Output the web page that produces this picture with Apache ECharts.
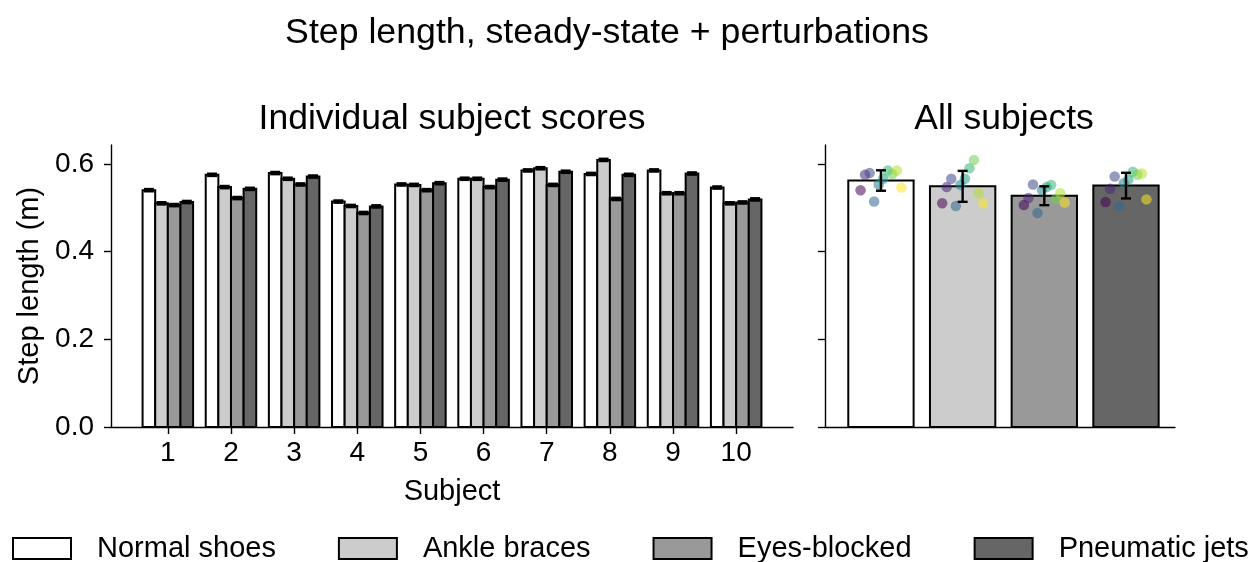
<!DOCTYPE html>
<html>
<head>
<meta charset="utf-8">
<title>Step length, steady-state + perturbations</title>
<script src="https://cdn.jsdelivr.net/npm/echarts@6/dist/echarts.min.js"></script>
<style>
  html, body { margin: 0; padding: 0; background: #fff; }
  #chart { width: 1253px; height: 562px; }
</style>
</head>
<body>
<div id="chart"></div>
<script>
// Subjects and walking conditions
const subjects = ['1', '2', '3', '4', '5', '6', '7', '8', '9', '10'];
const conditions = ['Normal shoes', 'Ankle braces', 'Eyes-blocked', 'Pneumatic jets'];

// Mean step length per subject (m), one array per condition
const normalShoes   = [0.540, 0.575, 0.579, 0.514, 0.553, 0.566, 0.585, 0.577, 0.585, 0.546];
const ankleBraces   = [0.510, 0.547, 0.566, 0.504, 0.552, 0.566, 0.590, 0.609, 0.533, 0.510];
const eyesBlocked   = [0.506, 0.522, 0.553, 0.488, 0.540, 0.547, 0.552, 0.520, 0.533, 0.512];
const pneumaticJets = [0.513, 0.543, 0.571, 0.503, 0.556, 0.564, 0.582, 0.575, 0.578, 0.519];

// Per-subject error (m)
const normalShoesErr   = [0.003, 0.003, 0.003, 0.003, 0.003, 0.003, 0.003, 0.003, 0.003, 0.003];
const ankleBracesErr   = [0.003, 0.003, 0.003, 0.003, 0.003, 0.003, 0.003, 0.003, 0.003, 0.003];
const eyesBlockedErr   = [0.003, 0.003, 0.003, 0.003, 0.003, 0.003, 0.003, 0.003, 0.003, 0.003];
const pneumaticJetsErr = [0.003, 0.003, 0.003, 0.003, 0.003, 0.003, 0.003, 0.003, 0.003, 0.003];

// Axis ticks
const yTicks = [0, 0.2, 0.4, 0.6];

const values = [normalShoes, ankleBraces, eyesBlocked, pneumaticJets];
const errors = [normalShoesErr, ankleBracesErr, eyesBlockedErr, pneumaticJetsErr];

// Styling
const FONT = '"Liberation Sans", Arial, Helvetica, sans-serif';
const fills = ['#ffffff', '#cccccc', '#999999', '#666666'];
const viridis = ['#440154', '#482878', '#3e4989', '#31688e', '#26828e',
                 '#1f9e89', '#35b779', '#6ece58', '#b5de2b', '#fde725'];
const EDGE = 2;
const AXIS_W = 1.4;

function mean(a) { return a.reduce((s, v) => s + v, 0) / a.length; }
function std(a) {
  const m = mean(a);
  return Math.sqrt(a.reduce((s, v) => s + (v - m) * (v - m), 0) / (a.length - 1));
}

function barRenderer(offset, halfWidth, fill) {
  return function (params, api) {
    const x = api.value(0), v = api.value(1);
    const tl = api.coord([x + offset - halfWidth, v]);
    const br = api.coord([x + offset + halfWidth, 0]);
    return {
      type: 'rect',
      shape: { x: tl[0], y: tl[1], width: br[0] - tl[0], height: br[1] - tl[1] },
      style: { fill: fill, stroke: '#000', lineWidth: EDGE }
    };
  };
}

function errorRenderer(offset, capHalf, width) {
  return function (params, api) {
    const x = api.value(0) + offset, v = api.value(1), e = api.value(2);
    const top = api.coord([x, v + e]);
    const bot = api.coord([x, v - e]);
    const st = { stroke: '#000', lineWidth: width };
    return {
      type: 'group',
      children: [
        { type: 'line', shape: { x1: top[0], y1: top[1], x2: bot[0], y2: bot[1] }, style: st },
        { type: 'line', shape: { x1: top[0] - capHalf, y1: top[1], x2: top[0] + capHalf, y2: top[1] }, style: st },
        { type: 'line', shape: { x1: bot[0] - capHalf, y1: bot[1], x2: bot[0] + capHalf, y2: bot[1] }, style: st }
      ]
    };
  };
}

const series = [];
const groupOffsets = [-0.3, -0.1, 0.1, 0.3];

// Left panel: grouped bars per subject
conditions.forEach((name, ci) => {
  series.push({
    name: name,
    type: 'custom',
    xAxisIndex: 0, yAxisIndex: 0,
    itemStyle: { color: fills[ci], borderColor: '#000', borderWidth: EDGE },
    renderItem: barRenderer(groupOffsets[ci], 0.1, fills[ci]),
    data: values[ci].map((v, si) => [si + 1, v]),
    z: 2
  });
  series.push({
    name: name + ' error',
    type: 'custom',
    xAxisIndex: 0, yAxisIndex: 0,
    renderItem: errorRenderer(groupOffsets[ci], 5, 2),
    data: values[ci].map((v, si) => [si + 1, v, errors[ci][si]]),
    z: 4
  });
});

// Right panel: condition means with subject points
conditions.forEach((name, ci) => {
  series.push({
    name: name,
    type: 'custom',
    xAxisIndex: 1, yAxisIndex: 1,
    itemStyle: { color: fills[ci], borderColor: '#000', borderWidth: EDGE },
    renderItem: barRenderer(0, 0.4, fills[ci]),
    data: [[ci, mean(values[ci])]],
    z: 2
  });
});

const spread = subjects.map((s, si) => -0.25 + 0.5 * si / (subjects.length - 1));
const points = [];
conditions.forEach((name, ci) => {
  values[ci].forEach((v, si) => {
    points.push({ value: [ci + spread[si], v], itemStyle: { color: viridis[si], opacity: 0.55 } });
  });
});
series.push({
  name: 'subjects',
  type: 'scatter',
  xAxisIndex: 1, yAxisIndex: 1,
  symbolSize: 10.5,
  data: points,
  z: 3
});
series.push({
  name: 'spread',
  type: 'custom',
  xAxisIndex: 1, yAxisIndex: 1,
  renderItem: errorRenderer(0, 5, 2.4),
  data: conditions.map((n, ci) => [ci, mean(values[ci]), std(values[ci])]),
  z: 4
});

const axisLine = { show: true, onZero: false, lineStyle: { color: '#000', width: AXIS_W } };
const axisTick = { show: true, inside: false, length: 7, lineStyle: { color: '#000', width: AXIS_W } };

const option = {
  animation: false,
  backgroundColor: '#fff',
  textStyle: { fontFamily: FONT, color: '#000' },
  grid: [
    { left: 111, top: 145, width: 682, height: 282 },
    { left: 825, top: 145, width: 350, height: 282 }
  ],
  xAxis: [
    {
      type: 'value', gridIndex: 0, min: 0.1, max: 10.9,
      axisLine: axisLine,
      axisTick: Object.assign({}, axisTick, { customValues: subjects.map((s, i) => i + 1) }),
      axisLabel: {
        customValues: subjects.map((s, i) => i + 1),
        formatter: v => subjects[Math.round(v) - 1],
        fontSize: 28, color: '#000', fontFamily: FONT, margin: 12
      },
      splitLine: { show: false },
      name: 'Subject', nameLocation: 'middle', nameGap: 50,
      nameTextStyle: { fontSize: 29, color: '#000', fontFamily: FONT }
    },
    {
      type: 'value', gridIndex: 1, min: -0.685, max: 3.6,
      axisLine: axisLine,
      axisTick: { show: false },
      axisLabel: { show: false },
      splitLine: { show: false }
    }
  ],
  yAxis: [
    {
      type: 'value', gridIndex: 0, min: 0, max: 0.643,
      axisLine: axisLine,
      axisTick: Object.assign({}, axisTick, { customValues: yTicks }),
      axisLabel: {
        customValues: yTicks,
        formatter: v => v.toFixed(1),
        fontSize: 28, color: '#000', fontFamily: FONT, margin: 17
      },
      splitLine: { show: false },
      name: 'Step length (m)', nameLocation: 'middle', nameGap: 66,
      nameTextStyle: { fontSize: 29, color: '#000', fontFamily: FONT }
    },
    {
      type: 'value', gridIndex: 1, min: 0, max: 0.643,
      axisLine: axisLine,
      axisTick: Object.assign({}, axisTick, { customValues: yTicks }),
      axisLabel: { show: false },
      splitLine: { show: false }
    }
  ],
  legend: {
    data: conditions,
    left: 12, top: 534, padding: 0,
    icon: 'rect',
    itemWidth: 58, itemHeight: 21, itemGap: 62,
    itemStyle: { borderColor: '#000', borderWidth: EDGE },
    textStyle: { fontSize: 29, color: '#000', fontFamily: FONT, padding: [0, 0, 0, 21] }
  },
  graphic: [
    { type: 'text', x: 607, y: 33, style: { text: 'Step length, steady-state + perturbations', font: '35.7px ' + FONT, fill: '#000', align: 'center', verticalAlign: 'middle' } },
    { type: 'text', x: 452, y: 119, style: { text: 'Individual subject scores', font: '35.5px ' + FONT, fill: '#000', align: 'center', verticalAlign: 'middle' } },
    { type: 'text', x: 1004, y: 119, style: { text: 'All subjects', font: '35.5px ' + FONT, fill: '#000', align: 'center', verticalAlign: 'middle' } }
  ],
  series: series
};

const chart = echarts.init(document.getElementById('chart'), null, { renderer: 'canvas' });
chart.setOption(option);
</script>
</body>
</html>
